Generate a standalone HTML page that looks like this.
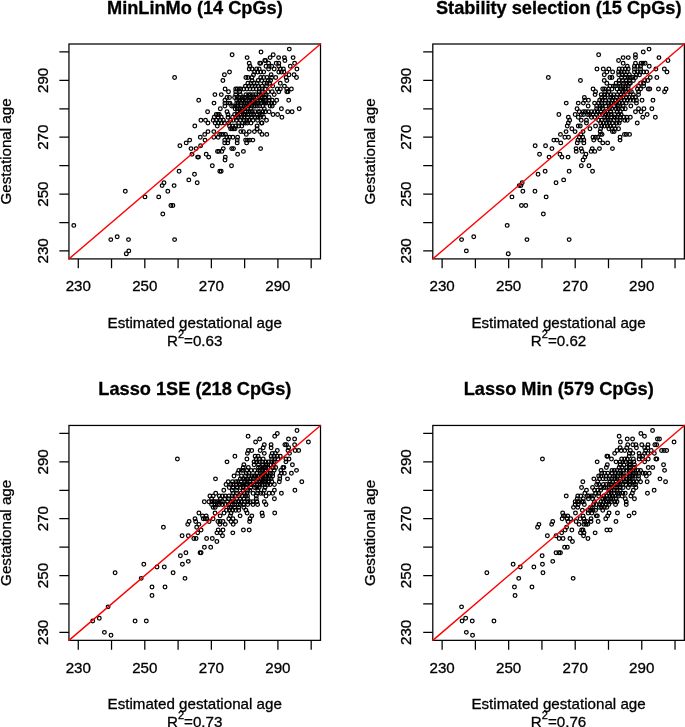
<!DOCTYPE html>
<html><head><meta charset="utf-8"><title>Gestational age prediction</title>
<style>
html,body{margin:0;padding:0;background:#fff;}
body{width:685px;height:727px;overflow:hidden;}
svg{display:block;will-change:transform;font-family:"Liberation Sans",Arial,Helvetica,sans-serif;}
.t{font-weight:bold;font-size:18.2px;text-anchor:middle;fill:#000;stroke:#000;stroke-width:0.3px;}
.l{font-size:15.15px;text-anchor:middle;fill:#000;stroke:#000;stroke-width:0.3px;}
.s{font-size:11px;}
.ax{stroke:#000;stroke-width:1.25;fill:none;stroke-linecap:butt;}
.pt circle{fill:none;stroke:#000;stroke-width:1.25;}
.rl{stroke:#f00;stroke-width:1.4;fill:none;stroke-linecap:round;}
</style></head><body>
<svg width="685" height="727" viewBox="0 0 685 727">
<rect x="0" y="0" width="685" height="727" fill="#fff"/>

<g transform="translate(0,0)">
<text class="t" x="194.9" y="13.9">MinLinMo (14 CpGs)</text>
<clipPath id="cp1"><rect x="68.95" y="44.0" width="251.6" height="214.9"/></clipPath>
<g class="pt" clip-path="url(#cp1)">
<circle cx="73.8" cy="225.4" r="1.85"/>
<circle cx="110.8" cy="239.6" r="1.85"/>
<circle cx="117.2" cy="236.7" r="1.85"/>
<circle cx="128.5" cy="239.6" r="1.85"/>
<circle cx="128.8" cy="250.9" r="1.85"/>
<circle cx="126.3" cy="253.8" r="1.85"/>
<circle cx="125.3" cy="191.2" r="1.85"/>
<circle cx="145.0" cy="196.9" r="1.85"/>
<circle cx="174.6" cy="239.6" r="1.85"/>
<circle cx="162.8" cy="214.0" r="1.85"/>
<circle cx="170.9" cy="205.5" r="1.85"/>
<circle cx="172.9" cy="205.5" r="1.85"/>
<circle cx="158.7" cy="196.9" r="1.85"/>
<circle cx="167.8" cy="191.2" r="1.85"/>
<circle cx="162.1" cy="185.6" r="1.85"/>
<circle cx="164.0" cy="182.7" r="1.85"/>
<circle cx="174.1" cy="185.6" r="1.85"/>
<circle cx="179.1" cy="171.3" r="1.85"/>
<circle cx="188.8" cy="179.9" r="1.85"/>
<circle cx="194.5" cy="174.2" r="1.85"/>
<circle cx="197.2" cy="182.7" r="1.85"/>
<circle cx="179.9" cy="145.8" r="1.85"/>
<circle cx="186.2" cy="142.9" r="1.85"/>
<circle cx="189.7" cy="140.1" r="1.85"/>
<circle cx="191.0" cy="148.6" r="1.85"/>
<circle cx="192.0" cy="154.3" r="1.85"/>
<circle cx="196.1" cy="148.6" r="1.85"/>
<circle cx="200.6" cy="145.8" r="1.85"/>
<circle cx="200.3" cy="137.2" r="1.85"/>
<circle cx="205.0" cy="140.1" r="1.85"/>
<circle cx="204.7" cy="134.4" r="1.85"/>
<circle cx="208.0" cy="131.6" r="1.85"/>
<circle cx="213.8" cy="131.6" r="1.85"/>
<circle cx="197.6" cy="157.1" r="1.85"/>
<circle cx="198.5" cy="157.1" r="1.85"/>
<circle cx="206.2" cy="154.3" r="1.85"/>
<circle cx="208.7" cy="157.1" r="1.85"/>
<circle cx="212.3" cy="165.7" r="1.85"/>
<circle cx="219.8" cy="171.3" r="1.85"/>
<circle cx="221.2" cy="171.3" r="1.85"/>
<circle cx="231.5" cy="165.7" r="1.85"/>
<circle cx="225.0" cy="160.0" r="1.85"/>
<circle cx="225.3" cy="157.1" r="1.85"/>
<circle cx="217.5" cy="151.4" r="1.85"/>
<circle cx="218.9" cy="151.4" r="1.85"/>
<circle cx="221.8" cy="151.4" r="1.85"/>
<circle cx="223.3" cy="148.6" r="1.85"/>
<circle cx="231.7" cy="148.6" r="1.85"/>
<circle cx="233.5" cy="148.6" r="1.85"/>
<circle cx="237.6" cy="154.3" r="1.85"/>
<circle cx="243.4" cy="151.4" r="1.85"/>
<circle cx="213.8" cy="137.2" r="1.85"/>
<circle cx="218.2" cy="137.2" r="1.85"/>
<circle cx="219.6" cy="134.4" r="1.85"/>
<circle cx="221.5" cy="134.4" r="1.85"/>
<circle cx="223.0" cy="134.4" r="1.85"/>
<circle cx="225.5" cy="134.4" r="1.85"/>
<circle cx="226.9" cy="137.2" r="1.85"/>
<circle cx="229.6" cy="137.2" r="1.85"/>
<circle cx="232.9" cy="137.2" r="1.85"/>
<circle cx="237.6" cy="137.2" r="1.85"/>
<circle cx="224.7" cy="140.1" r="1.85"/>
<circle cx="228.1" cy="140.1" r="1.85"/>
<circle cx="237.2" cy="140.1" r="1.85"/>
<circle cx="245.6" cy="140.1" r="1.85"/>
<circle cx="247.5" cy="140.1" r="1.85"/>
<circle cx="249.7" cy="140.1" r="1.85"/>
<circle cx="224.7" cy="142.9" r="1.85"/>
<circle cx="227.7" cy="142.9" r="1.85"/>
<circle cx="237.2" cy="142.9" r="1.85"/>
<circle cx="246.6" cy="142.9" r="1.85"/>
<circle cx="240.8" cy="131.6" r="1.85"/>
<circle cx="243.4" cy="131.6" r="1.85"/>
<circle cx="249.3" cy="131.6" r="1.85"/>
<circle cx="246.3" cy="134.4" r="1.85"/>
<circle cx="254.4" cy="131.6" r="1.85"/>
<circle cx="259.8" cy="131.6" r="1.85"/>
<circle cx="262.0" cy="134.4" r="1.85"/>
<circle cx="266.8" cy="134.4" r="1.85"/>
<circle cx="252.8" cy="140.1" r="1.85"/>
<circle cx="260.6" cy="148.6" r="1.85"/>
<circle cx="174.6" cy="77.5" r="1.85"/>
<circle cx="198.7" cy="100.3" r="1.85"/>
<circle cx="207.6" cy="111.7" r="1.85"/>
<circle cx="200.9" cy="120.2" r="1.85"/>
<circle cx="205.5" cy="120.2" r="1.85"/>
<circle cx="207.9" cy="123.0" r="1.85"/>
<circle cx="194.8" cy="125.9" r="1.85"/>
<circle cx="261.0" cy="52.0" r="1.85"/>
<circle cx="232.1" cy="54.8" r="1.85"/>
<circle cx="247.1" cy="57.6" r="1.85"/>
<circle cx="264.8" cy="60.5" r="1.85"/>
<circle cx="249.2" cy="63.3" r="1.85"/>
<circle cx="259.7" cy="63.3" r="1.85"/>
<circle cx="260.7" cy="63.3" r="1.85"/>
<circle cx="250.0" cy="66.2" r="1.85"/>
<circle cx="249.2" cy="69.0" r="1.85"/>
<circle cx="252.0" cy="69.0" r="1.85"/>
<circle cx="256.6" cy="69.0" r="1.85"/>
<circle cx="259.2" cy="69.0" r="1.85"/>
<circle cx="229.5" cy="71.9" r="1.85"/>
<circle cx="254.6" cy="71.9" r="1.85"/>
<circle cx="257.6" cy="71.9" r="1.85"/>
<circle cx="260.7" cy="71.9" r="1.85"/>
<circle cx="263.7" cy="71.9" r="1.85"/>
<circle cx="224.4" cy="74.7" r="1.85"/>
<circle cx="253.5" cy="74.7" r="1.85"/>
<circle cx="245.9" cy="77.5" r="1.85"/>
<circle cx="247.9" cy="77.5" r="1.85"/>
<circle cx="252.0" cy="77.5" r="1.85"/>
<circle cx="260.7" cy="77.5" r="1.85"/>
<circle cx="263.7" cy="77.5" r="1.85"/>
<circle cx="222.9" cy="80.4" r="1.85"/>
<circle cx="252.0" cy="80.4" r="1.85"/>
<circle cx="258.1" cy="80.4" r="1.85"/>
<circle cx="261.7" cy="80.4" r="1.85"/>
<circle cx="247.9" cy="83.2" r="1.85"/>
<circle cx="251.0" cy="83.2" r="1.85"/>
<circle cx="254.0" cy="83.2" r="1.85"/>
<circle cx="257.1" cy="83.2" r="1.85"/>
<circle cx="264.3" cy="83.2" r="1.85"/>
<circle cx="245.4" cy="86.1" r="1.85"/>
<circle cx="248.9" cy="86.1" r="1.85"/>
<circle cx="252.0" cy="86.1" r="1.85"/>
<circle cx="255.1" cy="86.1" r="1.85"/>
<circle cx="258.1" cy="86.1" r="1.85"/>
<circle cx="262.2" cy="86.1" r="1.85"/>
<circle cx="225.1" cy="88.9" r="1.85"/>
<circle cx="235.7" cy="88.9" r="1.85"/>
<circle cx="237.2" cy="88.9" r="1.85"/>
<circle cx="239.2" cy="88.9" r="1.85"/>
<circle cx="240.8" cy="88.9" r="1.85"/>
<circle cx="243.8" cy="88.9" r="1.85"/>
<circle cx="246.9" cy="88.9" r="1.85"/>
<circle cx="250.0" cy="88.9" r="1.85"/>
<circle cx="253.0" cy="88.9" r="1.85"/>
<circle cx="256.1" cy="88.9" r="1.85"/>
<circle cx="259.2" cy="88.9" r="1.85"/>
<circle cx="262.2" cy="88.9" r="1.85"/>
<circle cx="265.3" cy="88.9" r="1.85"/>
<circle cx="228.5" cy="91.8" r="1.85"/>
<circle cx="235.7" cy="91.8" r="1.85"/>
<circle cx="239.8" cy="91.8" r="1.85"/>
<circle cx="259.2" cy="91.8" r="1.85"/>
<circle cx="262.2" cy="91.8" r="1.85"/>
<circle cx="214.9" cy="94.6" r="1.85"/>
<circle cx="221.3" cy="94.6" r="1.85"/>
<circle cx="235.7" cy="94.6" r="1.85"/>
<circle cx="240.3" cy="94.6" r="1.85"/>
<circle cx="245.9" cy="94.6" r="1.85"/>
<circle cx="248.6" cy="94.6" r="1.85"/>
<circle cx="250.4" cy="94.6" r="1.85"/>
<circle cx="253.0" cy="94.6" r="1.85"/>
<circle cx="255.7" cy="94.6" r="1.85"/>
<circle cx="258.9" cy="94.6" r="1.85"/>
<circle cx="261.1" cy="94.6" r="1.85"/>
<circle cx="264.3" cy="94.6" r="1.85"/>
<circle cx="227.0" cy="97.4" r="1.85"/>
<circle cx="229.5" cy="97.4" r="1.85"/>
<circle cx="234.6" cy="97.4" r="1.85"/>
<circle cx="237.1" cy="97.4" r="1.85"/>
<circle cx="239.4" cy="97.4" r="1.85"/>
<circle cx="242.3" cy="97.4" r="1.85"/>
<circle cx="244.4" cy="97.4" r="1.85"/>
<circle cx="245.7" cy="97.4" r="1.85"/>
<circle cx="248.3" cy="97.4" r="1.85"/>
<circle cx="250.4" cy="97.4" r="1.85"/>
<circle cx="253.4" cy="97.4" r="1.85"/>
<circle cx="255.6" cy="97.4" r="1.85"/>
<circle cx="257.2" cy="97.4" r="1.85"/>
<circle cx="260.4" cy="97.4" r="1.85"/>
<circle cx="262.2" cy="97.4" r="1.85"/>
<circle cx="264.8" cy="97.4" r="1.85"/>
<circle cx="224.9" cy="100.3" r="1.85"/>
<circle cx="236.7" cy="100.3" r="1.85"/>
<circle cx="239.0" cy="100.3" r="1.85"/>
<circle cx="241.8" cy="100.3" r="1.85"/>
<circle cx="243.4" cy="100.3" r="1.85"/>
<circle cx="246.2" cy="100.3" r="1.85"/>
<circle cx="248.8" cy="100.3" r="1.85"/>
<circle cx="251.5" cy="100.3" r="1.85"/>
<circle cx="253.1" cy="100.3" r="1.85"/>
<circle cx="255.1" cy="100.3" r="1.85"/>
<circle cx="257.3" cy="100.3" r="1.85"/>
<circle cx="260.7" cy="100.3" r="1.85"/>
<circle cx="263.2" cy="100.3" r="1.85"/>
<circle cx="265.3" cy="100.3" r="1.85"/>
<circle cx="214.0" cy="103.1" r="1.85"/>
<circle cx="224.9" cy="103.1" r="1.85"/>
<circle cx="228.5" cy="103.1" r="1.85"/>
<circle cx="230.0" cy="103.1" r="1.85"/>
<circle cx="236.7" cy="103.1" r="1.85"/>
<circle cx="238.3" cy="103.1" r="1.85"/>
<circle cx="241.3" cy="103.1" r="1.85"/>
<circle cx="243.8" cy="103.1" r="1.85"/>
<circle cx="245.4" cy="103.1" r="1.85"/>
<circle cx="247.1" cy="103.1" r="1.85"/>
<circle cx="249.6" cy="103.1" r="1.85"/>
<circle cx="251.7" cy="103.1" r="1.85"/>
<circle cx="254.0" cy="103.1" r="1.85"/>
<circle cx="256.5" cy="103.1" r="1.85"/>
<circle cx="258.4" cy="103.1" r="1.85"/>
<circle cx="261.2" cy="103.1" r="1.85"/>
<circle cx="263.8" cy="103.1" r="1.85"/>
<circle cx="265.3" cy="103.1" r="1.85"/>
<circle cx="224.9" cy="106.0" r="1.85"/>
<circle cx="231.6" cy="106.0" r="1.85"/>
<circle cx="233.6" cy="106.0" r="1.85"/>
<circle cx="236.5" cy="106.0" r="1.85"/>
<circle cx="238.1" cy="106.0" r="1.85"/>
<circle cx="241.0" cy="106.0" r="1.85"/>
<circle cx="244.2" cy="106.0" r="1.85"/>
<circle cx="246.0" cy="106.0" r="1.85"/>
<circle cx="248.6" cy="106.0" r="1.85"/>
<circle cx="251.3" cy="106.0" r="1.85"/>
<circle cx="253.7" cy="106.0" r="1.85"/>
<circle cx="255.4" cy="106.0" r="1.85"/>
<circle cx="257.4" cy="106.0" r="1.85"/>
<circle cx="259.7" cy="106.0" r="1.85"/>
<circle cx="262.8" cy="106.0" r="1.85"/>
<circle cx="220.3" cy="108.8" r="1.85"/>
<circle cx="235.1" cy="108.8" r="1.85"/>
<circle cx="237.3" cy="108.8" r="1.85"/>
<circle cx="240.2" cy="108.8" r="1.85"/>
<circle cx="242.3" cy="108.8" r="1.85"/>
<circle cx="245.1" cy="108.8" r="1.85"/>
<circle cx="247.6" cy="108.8" r="1.85"/>
<circle cx="251.0" cy="108.8" r="1.85"/>
<circle cx="264.3" cy="108.8" r="1.85"/>
<circle cx="227.0" cy="111.7" r="1.85"/>
<circle cx="237.7" cy="111.7" r="1.85"/>
<circle cx="240.4" cy="111.7" r="1.85"/>
<circle cx="242.3" cy="111.7" r="1.85"/>
<circle cx="245.0" cy="111.7" r="1.85"/>
<circle cx="248.3" cy="111.7" r="1.85"/>
<circle cx="250.2" cy="111.7" r="1.85"/>
<circle cx="252.2" cy="111.7" r="1.85"/>
<circle cx="255.0" cy="111.7" r="1.85"/>
<circle cx="258.3" cy="111.7" r="1.85"/>
<circle cx="259.6" cy="111.7" r="1.85"/>
<circle cx="262.8" cy="111.7" r="1.85"/>
<circle cx="265.3" cy="111.7" r="1.85"/>
<circle cx="216.2" cy="114.5" r="1.85"/>
<circle cx="217.8" cy="114.5" r="1.85"/>
<circle cx="219.3" cy="114.5" r="1.85"/>
<circle cx="228.0" cy="114.5" r="1.85"/>
<circle cx="234.6" cy="114.5" r="1.85"/>
<circle cx="237.5" cy="114.5" r="1.85"/>
<circle cx="240.2" cy="114.5" r="1.85"/>
<circle cx="243.5" cy="114.5" r="1.85"/>
<circle cx="245.3" cy="114.5" r="1.85"/>
<circle cx="247.9" cy="114.5" r="1.85"/>
<circle cx="251.3" cy="114.5" r="1.85"/>
<circle cx="253.7" cy="114.5" r="1.85"/>
<circle cx="257.2" cy="114.5" r="1.85"/>
<circle cx="260.1" cy="114.5" r="1.85"/>
<circle cx="262.2" cy="114.5" r="1.85"/>
<circle cx="214.2" cy="117.3" r="1.85"/>
<circle cx="218.3" cy="117.3" r="1.85"/>
<circle cx="221.3" cy="117.3" r="1.85"/>
<circle cx="228.0" cy="117.3" r="1.85"/>
<circle cx="232.6" cy="117.3" r="1.85"/>
<circle cx="236.2" cy="117.3" r="1.85"/>
<circle cx="238.2" cy="117.3" r="1.85"/>
<circle cx="241.5" cy="117.3" r="1.85"/>
<circle cx="244.0" cy="117.3" r="1.85"/>
<circle cx="247.5" cy="117.3" r="1.85"/>
<circle cx="251.8" cy="117.3" r="1.85"/>
<circle cx="254.8" cy="117.3" r="1.85"/>
<circle cx="258.0" cy="117.3" r="1.85"/>
<circle cx="260.2" cy="117.3" r="1.85"/>
<circle cx="263.7" cy="117.3" r="1.85"/>
<circle cx="213.2" cy="120.2" r="1.85"/>
<circle cx="216.2" cy="120.2" r="1.85"/>
<circle cx="220.3" cy="120.2" r="1.85"/>
<circle cx="223.4" cy="120.2" r="1.85"/>
<circle cx="230.6" cy="120.2" r="1.85"/>
<circle cx="233.2" cy="120.2" r="1.85"/>
<circle cx="236.4" cy="120.2" r="1.85"/>
<circle cx="240.4" cy="120.2" r="1.85"/>
<circle cx="244.0" cy="120.2" r="1.85"/>
<circle cx="246.9" cy="120.2" r="1.85"/>
<circle cx="249.0" cy="120.2" r="1.85"/>
<circle cx="253.0" cy="120.2" r="1.85"/>
<circle cx="257.6" cy="120.2" r="1.85"/>
<circle cx="215.2" cy="123.0" r="1.85"/>
<circle cx="218.3" cy="123.0" r="1.85"/>
<circle cx="221.3" cy="123.0" r="1.85"/>
<circle cx="224.4" cy="123.0" r="1.85"/>
<circle cx="228.5" cy="123.0" r="1.85"/>
<circle cx="238.7" cy="123.0" r="1.85"/>
<circle cx="242.5" cy="123.0" r="1.85"/>
<circle cx="245.3" cy="123.0" r="1.85"/>
<circle cx="247.3" cy="123.0" r="1.85"/>
<circle cx="251.0" cy="123.0" r="1.85"/>
<circle cx="261.4" cy="123.0" r="1.85"/>
<circle cx="262.0" cy="123.0" r="1.85"/>
<circle cx="217.3" cy="125.9" r="1.85"/>
<circle cx="229.5" cy="125.9" r="1.85"/>
<circle cx="232.6" cy="125.9" r="1.85"/>
<circle cx="235.7" cy="125.9" r="1.85"/>
<circle cx="238.7" cy="125.9" r="1.85"/>
<circle cx="241.8" cy="125.9" r="1.85"/>
<circle cx="257.1" cy="125.9" r="1.85"/>
<circle cx="230.6" cy="128.7" r="1.85"/>
<circle cx="232.1" cy="128.7" r="1.85"/>
<circle cx="233.6" cy="128.7" r="1.85"/>
<circle cx="235.1" cy="128.7" r="1.85"/>
<circle cx="257.1" cy="128.7" r="1.85"/>
<circle cx="289.3" cy="49.1" r="1.85"/>
<circle cx="273.2" cy="54.8" r="1.85"/>
<circle cx="270.1" cy="57.6" r="1.85"/>
<circle cx="278.6" cy="57.6" r="1.85"/>
<circle cx="284.4" cy="57.6" r="1.85"/>
<circle cx="293.1" cy="57.6" r="1.85"/>
<circle cx="265.5" cy="60.5" r="1.85"/>
<circle cx="284.9" cy="60.5" r="1.85"/>
<circle cx="268.6" cy="63.3" r="1.85"/>
<circle cx="276.2" cy="63.3" r="1.85"/>
<circle cx="278.8" cy="63.3" r="1.85"/>
<circle cx="294.6" cy="63.3" r="1.85"/>
<circle cx="266.0" cy="66.2" r="1.85"/>
<circle cx="269.1" cy="66.2" r="1.85"/>
<circle cx="271.7" cy="66.2" r="1.85"/>
<circle cx="278.8" cy="66.2" r="1.85"/>
<circle cx="290.3" cy="66.2" r="1.85"/>
<circle cx="268.6" cy="69.0" r="1.85"/>
<circle cx="274.2" cy="69.0" r="1.85"/>
<circle cx="280.3" cy="69.0" r="1.85"/>
<circle cx="283.4" cy="69.0" r="1.85"/>
<circle cx="296.9" cy="69.0" r="1.85"/>
<circle cx="278.8" cy="71.9" r="1.85"/>
<circle cx="281.4" cy="71.9" r="1.85"/>
<circle cx="283.9" cy="71.9" r="1.85"/>
<circle cx="271.1" cy="74.7" r="1.85"/>
<circle cx="289.0" cy="74.7" r="1.85"/>
<circle cx="294.1" cy="74.7" r="1.85"/>
<circle cx="267.0" cy="77.5" r="1.85"/>
<circle cx="271.7" cy="77.5" r="1.85"/>
<circle cx="275.7" cy="77.5" r="1.85"/>
<circle cx="286.1" cy="77.5" r="1.85"/>
<circle cx="296.5" cy="77.5" r="1.85"/>
<circle cx="268.1" cy="80.4" r="1.85"/>
<circle cx="270.6" cy="80.4" r="1.85"/>
<circle cx="286.8" cy="80.4" r="1.85"/>
<circle cx="267.0" cy="83.2" r="1.85"/>
<circle cx="269.6" cy="83.2" r="1.85"/>
<circle cx="280.3" cy="83.2" r="1.85"/>
<circle cx="266.5" cy="86.1" r="1.85"/>
<circle cx="272.7" cy="86.1" r="1.85"/>
<circle cx="284.4" cy="86.1" r="1.85"/>
<circle cx="277.3" cy="88.9" r="1.85"/>
<circle cx="280.3" cy="88.9" r="1.85"/>
<circle cx="286.8" cy="88.9" r="1.85"/>
<circle cx="291.4" cy="88.9" r="1.85"/>
<circle cx="268.1" cy="91.8" r="1.85"/>
<circle cx="272.2" cy="91.8" r="1.85"/>
<circle cx="278.8" cy="91.8" r="1.85"/>
<circle cx="286.8" cy="91.8" r="1.85"/>
<circle cx="288.0" cy="91.8" r="1.85"/>
<circle cx="266.0" cy="94.6" r="1.85"/>
<circle cx="274.2" cy="94.6" r="1.85"/>
<circle cx="269.1" cy="97.4" r="1.85"/>
<circle cx="266.0" cy="100.3" r="1.85"/>
<circle cx="269.1" cy="100.3" r="1.85"/>
<circle cx="272.2" cy="100.3" r="1.85"/>
<circle cx="276.7" cy="100.3" r="1.85"/>
<circle cx="288.7" cy="100.3" r="1.85"/>
<circle cx="266.0" cy="103.1" r="1.85"/>
<circle cx="268.6" cy="103.1" r="1.85"/>
<circle cx="271.7" cy="103.1" r="1.85"/>
<circle cx="274.2" cy="103.1" r="1.85"/>
<circle cx="270.1" cy="106.0" r="1.85"/>
<circle cx="272.2" cy="106.0" r="1.85"/>
<circle cx="281.4" cy="108.8" r="1.85"/>
<circle cx="299.2" cy="108.8" r="1.85"/>
<circle cx="269.1" cy="111.7" r="1.85"/>
<circle cx="287.7" cy="111.7" r="1.85"/>
<circle cx="292.1" cy="111.7" r="1.85"/>
<circle cx="273.0" cy="114.5" r="1.85"/>
<circle cx="277.6" cy="114.5" r="1.85"/>
<circle cx="281.9" cy="117.3" r="1.85"/>
<circle cx="266.5" cy="120.2" r="1.85"/>
</g>
<rect class="ax" x="68.95" y="44.0" width="251.55" height="214.90"/>
<line class="rl" x1="68.95" y1="258.9" x2="320.5" y2="44.0"/>
<path class="ax" d="M78.27 258.9v9.4M68.95 250.94h-9.6M111.54 258.9v9.4M68.95 222.51h-9.6M144.81 258.9v9.4M68.95 194.09h-9.6M178.09 258.9v9.4M68.95 165.66h-9.6M211.36 258.9v9.4M68.95 137.24h-9.6M244.64 258.9v9.4M68.95 108.81h-9.6M277.91 258.9v9.4M68.95 80.39h-9.6M311.18 258.9v9.4M68.95 51.96h-9.6"/>
<text class="l" x="78.3" y="291.3">230</text>
<text class="l" transform="translate(47.6,250.9) rotate(-90)">230</text>
<text class="l" x="144.8" y="291.3">250</text>
<text class="l" transform="translate(47.6,194.1) rotate(-90)">250</text>
<text class="l" x="211.4" y="291.3">270</text>
<text class="l" transform="translate(47.6,137.2) rotate(-90)">270</text>
<text class="l" x="277.9" y="291.3">290</text>
<text class="l" transform="translate(47.6,80.4) rotate(-90)">290</text>
<text class="l" transform="translate(10.9,151.4) rotate(-90)">Gestational age</text>
<text class="l" x="194.7" y="327.6">Estimated gestational age</text>
<text class="l" x="194.7" y="345.8">R<tspan class="s" dy="-8.3">2</tspan><tspan dy="8.3">=0.63</tspan></text>
</g>
<g transform="translate(363.85,0)">
<text class="t" x="194.9" y="13.9">Stability selection (15 CpGs)</text>
<clipPath id="cp2"><rect x="68.95" y="44.0" width="251.6" height="214.9"/></clipPath>
<g class="pt" clip-path="url(#cp2)">
<circle cx="97.7" cy="239.6" r="1.85"/>
<circle cx="109.9" cy="236.7" r="1.85"/>
<circle cx="102.5" cy="250.9" r="1.85"/>
<circle cx="144.4" cy="253.8" r="1.85"/>
<circle cx="143.3" cy="225.4" r="1.85"/>
<circle cx="148.1" cy="196.9" r="1.85"/>
<circle cx="157.6" cy="205.5" r="1.85"/>
<circle cx="159.0" cy="191.2" r="1.85"/>
<circle cx="155.4" cy="185.6" r="1.85"/>
<circle cx="157.1" cy="185.6" r="1.85"/>
<circle cx="158.3" cy="182.7" r="1.85"/>
<circle cx="163.1" cy="239.6" r="1.85"/>
<circle cx="205.3" cy="239.6" r="1.85"/>
<circle cx="179.5" cy="214.0" r="1.85"/>
<circle cx="161.9" cy="205.5" r="1.85"/>
<circle cx="182.3" cy="196.9" r="1.85"/>
<circle cx="171.1" cy="191.2" r="1.85"/>
<circle cx="192.2" cy="182.7" r="1.85"/>
<circle cx="199.8" cy="179.9" r="1.85"/>
<circle cx="174.2" cy="174.2" r="1.85"/>
<circle cx="181.3" cy="171.3" r="1.85"/>
<circle cx="205.3" cy="171.3" r="1.85"/>
<circle cx="228.7" cy="171.3" r="1.85"/>
<circle cx="217.5" cy="165.7" r="1.85"/>
<circle cx="225.1" cy="165.7" r="1.85"/>
<circle cx="219.2" cy="160.0" r="1.85"/>
<circle cx="221.0" cy="157.1" r="1.85"/>
<circle cx="204.2" cy="157.1" r="1.85"/>
<circle cx="198.1" cy="157.1" r="1.85"/>
<circle cx="185.2" cy="157.1" r="1.85"/>
<circle cx="222.1" cy="154.3" r="1.85"/>
<circle cx="175.7" cy="154.3" r="1.85"/>
<circle cx="196.1" cy="154.3" r="1.85"/>
<circle cx="212.4" cy="151.4" r="1.85"/>
<circle cx="218.2" cy="151.4" r="1.85"/>
<circle cx="227.2" cy="151.4" r="1.85"/>
<circle cx="230.9" cy="151.4" r="1.85"/>
<circle cx="212.2" cy="148.6" r="1.85"/>
<circle cx="217.3" cy="148.6" r="1.85"/>
<circle cx="228.4" cy="148.6" r="1.85"/>
<circle cx="235.6" cy="148.6" r="1.85"/>
<circle cx="188.1" cy="148.6" r="1.85"/>
<circle cx="171.3" cy="145.8" r="1.85"/>
<circle cx="181.7" cy="145.8" r="1.85"/>
<circle cx="196.9" cy="142.9" r="1.85"/>
<circle cx="213.4" cy="142.9" r="1.85"/>
<circle cx="220.0" cy="142.9" r="1.85"/>
<circle cx="238.9" cy="142.9" r="1.85"/>
<circle cx="243.8" cy="142.9" r="1.85"/>
<circle cx="190.0" cy="140.1" r="1.85"/>
<circle cx="193.0" cy="140.1" r="1.85"/>
<circle cx="214.1" cy="140.1" r="1.85"/>
<circle cx="217.0" cy="140.1" r="1.85"/>
<circle cx="220.0" cy="140.1" r="1.85"/>
<circle cx="229.9" cy="140.1" r="1.85"/>
<circle cx="236.0" cy="140.1" r="1.85"/>
<circle cx="201.0" cy="137.2" r="1.85"/>
<circle cx="204.6" cy="137.2" r="1.85"/>
<circle cx="215.6" cy="137.2" r="1.85"/>
<circle cx="218.9" cy="137.2" r="1.85"/>
<circle cx="229.1" cy="137.2" r="1.85"/>
<circle cx="231.6" cy="137.2" r="1.85"/>
<circle cx="233.8" cy="137.2" r="1.85"/>
<circle cx="196.6" cy="134.4" r="1.85"/>
<circle cx="217.0" cy="134.4" r="1.85"/>
<circle cx="236.7" cy="134.4" r="1.85"/>
<circle cx="238.2" cy="134.4" r="1.85"/>
<circle cx="202.2" cy="131.6" r="1.85"/>
<circle cx="211.2" cy="131.6" r="1.85"/>
<circle cx="219.2" cy="131.6" r="1.85"/>
<circle cx="236.3" cy="131.6" r="1.85"/>
<circle cx="248.6" cy="131.6" r="1.85"/>
<circle cx="250.3" cy="131.6" r="1.85"/>
<circle cx="260.6" cy="134.4" r="1.85"/>
<circle cx="262.5" cy="134.4" r="1.85"/>
<circle cx="265.7" cy="134.4" r="1.85"/>
<circle cx="256.2" cy="137.2" r="1.85"/>
<circle cx="256.2" cy="140.1" r="1.85"/>
<circle cx="248.6" cy="148.6" r="1.85"/>
<circle cx="184.5" cy="77.5" r="1.85"/>
<circle cx="202.4" cy="103.1" r="1.85"/>
<circle cx="195.0" cy="114.5" r="1.85"/>
<circle cx="204.5" cy="117.3" r="1.85"/>
<circle cx="205.8" cy="120.2" r="1.85"/>
<circle cx="204.5" cy="123.0" r="1.85"/>
<circle cx="203.4" cy="125.9" r="1.85"/>
<circle cx="208.0" cy="128.7" r="1.85"/>
<circle cx="234.8" cy="54.8" r="1.85"/>
<circle cx="259.3" cy="57.6" r="1.85"/>
<circle cx="264.4" cy="57.6" r="1.85"/>
<circle cx="254.7" cy="60.5" r="1.85"/>
<circle cx="259.3" cy="63.3" r="1.85"/>
<circle cx="263.4" cy="66.2" r="1.85"/>
<circle cx="233.1" cy="69.0" r="1.85"/>
<circle cx="239.4" cy="69.0" r="1.85"/>
<circle cx="245.0" cy="69.0" r="1.85"/>
<circle cx="255.3" cy="69.0" r="1.85"/>
<circle cx="258.3" cy="69.0" r="1.85"/>
<circle cx="261.4" cy="69.0" r="1.85"/>
<circle cx="264.4" cy="69.0" r="1.85"/>
<circle cx="243.0" cy="71.9" r="1.85"/>
<circle cx="248.8" cy="71.9" r="1.85"/>
<circle cx="254.7" cy="71.9" r="1.85"/>
<circle cx="257.5" cy="71.9" r="1.85"/>
<circle cx="260.3" cy="71.9" r="1.85"/>
<circle cx="263.4" cy="71.9" r="1.85"/>
<circle cx="240.4" cy="74.7" r="1.85"/>
<circle cx="254.9" cy="74.7" r="1.85"/>
<circle cx="258.3" cy="74.7" r="1.85"/>
<circle cx="261.9" cy="74.7" r="1.85"/>
<circle cx="265.5" cy="74.7" r="1.85"/>
<circle cx="246.1" cy="77.5" r="1.85"/>
<circle cx="248.1" cy="77.5" r="1.85"/>
<circle cx="257.8" cy="77.5" r="1.85"/>
<circle cx="261.4" cy="77.5" r="1.85"/>
<circle cx="264.4" cy="77.5" r="1.85"/>
<circle cx="216.6" cy="80.4" r="1.85"/>
<circle cx="240.4" cy="80.4" r="1.85"/>
<circle cx="255.3" cy="80.4" r="1.85"/>
<circle cx="258.8" cy="80.4" r="1.85"/>
<circle cx="262.4" cy="80.4" r="1.85"/>
<circle cx="265.5" cy="80.4" r="1.85"/>
<circle cx="243.0" cy="83.2" r="1.85"/>
<circle cx="252.2" cy="83.2" r="1.85"/>
<circle cx="255.2" cy="83.2" r="1.85"/>
<circle cx="259.7" cy="83.2" r="1.85"/>
<circle cx="261.9" cy="83.2" r="1.85"/>
<circle cx="265.5" cy="83.2" r="1.85"/>
<circle cx="246.1" cy="86.1" r="1.85"/>
<circle cx="249.5" cy="86.1" r="1.85"/>
<circle cx="251.5" cy="86.1" r="1.85"/>
<circle cx="256.0" cy="86.1" r="1.85"/>
<circle cx="257.6" cy="86.1" r="1.85"/>
<circle cx="262.3" cy="86.1" r="1.85"/>
<circle cx="264.4" cy="86.1" r="1.85"/>
<circle cx="229.2" cy="88.9" r="1.85"/>
<circle cx="238.9" cy="88.9" r="1.85"/>
<circle cx="240.8" cy="88.9" r="1.85"/>
<circle cx="245.0" cy="88.9" r="1.85"/>
<circle cx="248.1" cy="88.9" r="1.85"/>
<circle cx="253.2" cy="88.9" r="1.85"/>
<circle cx="256.9" cy="88.9" r="1.85"/>
<circle cx="258.9" cy="88.9" r="1.85"/>
<circle cx="261.5" cy="88.9" r="1.85"/>
<circle cx="264.4" cy="88.9" r="1.85"/>
<circle cx="231.7" cy="91.8" r="1.85"/>
<circle cx="240.9" cy="91.8" r="1.85"/>
<circle cx="245.0" cy="91.8" r="1.85"/>
<circle cx="255.3" cy="91.8" r="1.85"/>
<circle cx="259.3" cy="91.8" r="1.85"/>
<circle cx="261.6" cy="91.8" r="1.85"/>
<circle cx="265.5" cy="91.8" r="1.85"/>
<circle cx="231.2" cy="94.6" r="1.85"/>
<circle cx="237.3" cy="94.6" r="1.85"/>
<circle cx="240.9" cy="94.6" r="1.85"/>
<circle cx="243.7" cy="94.6" r="1.85"/>
<circle cx="246.9" cy="94.6" r="1.85"/>
<circle cx="249.9" cy="94.6" r="1.85"/>
<circle cx="253.5" cy="94.6" r="1.85"/>
<circle cx="257.1" cy="94.6" r="1.85"/>
<circle cx="260.1" cy="94.6" r="1.85"/>
<circle cx="263.4" cy="94.6" r="1.85"/>
<circle cx="220.5" cy="97.4" r="1.85"/>
<circle cx="237.9" cy="97.4" r="1.85"/>
<circle cx="240.9" cy="97.4" r="1.85"/>
<circle cx="246.9" cy="97.4" r="1.85"/>
<circle cx="249.2" cy="97.4" r="1.85"/>
<circle cx="252.6" cy="97.4" r="1.85"/>
<circle cx="256.7" cy="97.4" r="1.85"/>
<circle cx="259.0" cy="97.4" r="1.85"/>
<circle cx="262.5" cy="97.4" r="1.85"/>
<circle cx="265.5" cy="97.4" r="1.85"/>
<circle cx="221.0" cy="100.3" r="1.85"/>
<circle cx="224.6" cy="100.3" r="1.85"/>
<circle cx="235.8" cy="100.3" r="1.85"/>
<circle cx="238.2" cy="100.3" r="1.85"/>
<circle cx="241.5" cy="100.3" r="1.85"/>
<circle cx="245.5" cy="100.3" r="1.85"/>
<circle cx="248.2" cy="100.3" r="1.85"/>
<circle cx="251.9" cy="100.3" r="1.85"/>
<circle cx="254.4" cy="100.3" r="1.85"/>
<circle cx="257.3" cy="100.3" r="1.85"/>
<circle cx="260.3" cy="100.3" r="1.85"/>
<circle cx="263.4" cy="100.3" r="1.85"/>
<circle cx="214.4" cy="103.1" r="1.85"/>
<circle cx="219.5" cy="103.1" r="1.85"/>
<circle cx="230.7" cy="103.1" r="1.85"/>
<circle cx="234.8" cy="103.1" r="1.85"/>
<circle cx="237.8" cy="103.1" r="1.85"/>
<circle cx="241.3" cy="103.1" r="1.85"/>
<circle cx="244.8" cy="103.1" r="1.85"/>
<circle cx="247.2" cy="103.1" r="1.85"/>
<circle cx="250.8" cy="103.1" r="1.85"/>
<circle cx="252.5" cy="103.1" r="1.85"/>
<circle cx="255.5" cy="103.1" r="1.85"/>
<circle cx="258.5" cy="103.1" r="1.85"/>
<circle cx="262.4" cy="103.1" r="1.85"/>
<circle cx="224.3" cy="106.0" r="1.85"/>
<circle cx="232.8" cy="106.0" r="1.85"/>
<circle cx="236.2" cy="106.0" r="1.85"/>
<circle cx="238.0" cy="106.0" r="1.85"/>
<circle cx="241.9" cy="106.0" r="1.85"/>
<circle cx="245.3" cy="106.0" r="1.85"/>
<circle cx="247.0" cy="106.0" r="1.85"/>
<circle cx="250.3" cy="106.0" r="1.85"/>
<circle cx="254.3" cy="106.0" r="1.85"/>
<circle cx="255.8" cy="106.0" r="1.85"/>
<circle cx="259.3" cy="106.0" r="1.85"/>
<circle cx="213.2" cy="108.8" r="1.85"/>
<circle cx="232.8" cy="108.8" r="1.85"/>
<circle cx="236.0" cy="108.8" r="1.85"/>
<circle cx="238.6" cy="108.8" r="1.85"/>
<circle cx="245.6" cy="108.8" r="1.85"/>
<circle cx="247.8" cy="108.8" r="1.85"/>
<circle cx="252.1" cy="108.8" r="1.85"/>
<circle cx="254.2" cy="108.8" r="1.85"/>
<circle cx="258.7" cy="108.8" r="1.85"/>
<circle cx="261.4" cy="108.8" r="1.85"/>
<circle cx="215.4" cy="111.7" r="1.85"/>
<circle cx="219.5" cy="111.7" r="1.85"/>
<circle cx="221.6" cy="111.7" r="1.85"/>
<circle cx="224.2" cy="111.7" r="1.85"/>
<circle cx="227.6" cy="111.7" r="1.85"/>
<circle cx="230.7" cy="111.7" r="1.85"/>
<circle cx="233.5" cy="111.7" r="1.85"/>
<circle cx="236.9" cy="111.7" r="1.85"/>
<circle cx="240.9" cy="111.7" r="1.85"/>
<circle cx="242.9" cy="111.7" r="1.85"/>
<circle cx="246.8" cy="111.7" r="1.85"/>
<circle cx="253.4" cy="111.7" r="1.85"/>
<circle cx="256.3" cy="111.7" r="1.85"/>
<circle cx="211.3" cy="114.5" r="1.85"/>
<circle cx="217.4" cy="114.5" r="1.85"/>
<circle cx="219.7" cy="114.5" r="1.85"/>
<circle cx="223.8" cy="114.5" r="1.85"/>
<circle cx="225.8" cy="114.5" r="1.85"/>
<circle cx="228.9" cy="114.5" r="1.85"/>
<circle cx="232.7" cy="114.5" r="1.85"/>
<circle cx="235.9" cy="114.5" r="1.85"/>
<circle cx="238.4" cy="114.5" r="1.85"/>
<circle cx="242.0" cy="114.5" r="1.85"/>
<circle cx="244.3" cy="114.5" r="1.85"/>
<circle cx="247.2" cy="114.5" r="1.85"/>
<circle cx="250.8" cy="114.5" r="1.85"/>
<circle cx="254.7" cy="114.5" r="1.85"/>
<circle cx="257.3" cy="114.5" r="1.85"/>
<circle cx="214.4" cy="117.3" r="1.85"/>
<circle cx="227.6" cy="117.3" r="1.85"/>
<circle cx="230.9" cy="117.3" r="1.85"/>
<circle cx="240.9" cy="117.3" r="1.85"/>
<circle cx="243.1" cy="117.3" r="1.85"/>
<circle cx="247.7" cy="117.3" r="1.85"/>
<circle cx="250.7" cy="117.3" r="1.85"/>
<circle cx="253.3" cy="117.3" r="1.85"/>
<circle cx="256.3" cy="117.3" r="1.85"/>
<circle cx="260.1" cy="117.3" r="1.85"/>
<circle cx="262.9" cy="117.3" r="1.85"/>
<circle cx="217.4" cy="120.2" r="1.85"/>
<circle cx="222.6" cy="120.2" r="1.85"/>
<circle cx="234.8" cy="120.2" r="1.85"/>
<circle cx="237.7" cy="120.2" r="1.85"/>
<circle cx="241.6" cy="120.2" r="1.85"/>
<circle cx="244.2" cy="120.2" r="1.85"/>
<circle cx="246.7" cy="120.2" r="1.85"/>
<circle cx="249.9" cy="120.2" r="1.85"/>
<circle cx="253.4" cy="120.2" r="1.85"/>
<circle cx="256.3" cy="120.2" r="1.85"/>
<circle cx="260.9" cy="120.2" r="1.85"/>
<circle cx="263.4" cy="120.2" r="1.85"/>
<circle cx="222.6" cy="123.0" r="1.85"/>
<circle cx="236.8" cy="123.0" r="1.85"/>
<circle cx="239.5" cy="123.0" r="1.85"/>
<circle cx="242.6" cy="123.0" r="1.85"/>
<circle cx="245.4" cy="123.0" r="1.85"/>
<circle cx="248.7" cy="123.0" r="1.85"/>
<circle cx="253.1" cy="123.0" r="1.85"/>
<circle cx="255.3" cy="123.0" r="1.85"/>
<circle cx="214.4" cy="125.9" r="1.85"/>
<circle cx="216.4" cy="125.9" r="1.85"/>
<circle cx="231.7" cy="125.9" r="1.85"/>
<circle cx="237.9" cy="125.9" r="1.85"/>
<circle cx="240.5" cy="125.9" r="1.85"/>
<circle cx="243.7" cy="125.9" r="1.85"/>
<circle cx="246.2" cy="125.9" r="1.85"/>
<circle cx="250.1" cy="125.9" r="1.85"/>
<circle cx="226.1" cy="128.7" r="1.85"/>
<circle cx="236.8" cy="128.7" r="1.85"/>
<circle cx="245.0" cy="128.7" r="1.85"/>
<circle cx="248.1" cy="128.7" r="1.85"/>
<circle cx="251.2" cy="128.7" r="1.85"/>
<circle cx="254.7" cy="128.7" r="1.85"/>
<circle cx="285.2" cy="49.1" r="1.85"/>
<circle cx="279.4" cy="52.0" r="1.85"/>
<circle cx="271.6" cy="54.8" r="1.85"/>
<circle cx="271.6" cy="57.6" r="1.85"/>
<circle cx="295.1" cy="57.6" r="1.85"/>
<circle cx="304.1" cy="60.5" r="1.85"/>
<circle cx="271.6" cy="63.3" r="1.85"/>
<circle cx="277.2" cy="63.3" r="1.85"/>
<circle cx="279.2" cy="63.3" r="1.85"/>
<circle cx="281.3" cy="63.3" r="1.85"/>
<circle cx="270.6" cy="66.2" r="1.85"/>
<circle cx="273.6" cy="66.2" r="1.85"/>
<circle cx="276.7" cy="66.2" r="1.85"/>
<circle cx="285.4" cy="66.2" r="1.85"/>
<circle cx="270.6" cy="69.0" r="1.85"/>
<circle cx="276.7" cy="69.0" r="1.85"/>
<circle cx="292.0" cy="69.0" r="1.85"/>
<circle cx="300.5" cy="69.0" r="1.85"/>
<circle cx="270.6" cy="71.9" r="1.85"/>
<circle cx="273.6" cy="71.9" r="1.85"/>
<circle cx="276.7" cy="71.9" r="1.85"/>
<circle cx="279.8" cy="71.9" r="1.85"/>
<circle cx="282.8" cy="71.9" r="1.85"/>
<circle cx="303.1" cy="71.9" r="1.85"/>
<circle cx="272.6" cy="74.7" r="1.85"/>
<circle cx="275.7" cy="74.7" r="1.85"/>
<circle cx="266.5" cy="77.5" r="1.85"/>
<circle cx="269.0" cy="77.5" r="1.85"/>
<circle cx="271.6" cy="77.5" r="1.85"/>
<circle cx="286.4" cy="77.5" r="1.85"/>
<circle cx="293.0" cy="77.5" r="1.85"/>
<circle cx="269.5" cy="80.4" r="1.85"/>
<circle cx="280.8" cy="80.4" r="1.85"/>
<circle cx="283.9" cy="80.4" r="1.85"/>
<circle cx="266.5" cy="83.2" r="1.85"/>
<circle cx="276.7" cy="83.2" r="1.85"/>
<circle cx="279.8" cy="83.2" r="1.85"/>
<circle cx="274.7" cy="86.1" r="1.85"/>
<circle cx="279.8" cy="86.1" r="1.85"/>
<circle cx="273.6" cy="88.9" r="1.85"/>
<circle cx="276.7" cy="88.9" r="1.85"/>
<circle cx="284.4" cy="88.9" r="1.85"/>
<circle cx="285.9" cy="88.9" r="1.85"/>
<circle cx="294.6" cy="88.9" r="1.85"/>
<circle cx="302.2" cy="88.9" r="1.85"/>
<circle cx="267.5" cy="91.8" r="1.85"/>
<circle cx="274.7" cy="91.8" r="1.85"/>
<circle cx="300.7" cy="91.8" r="1.85"/>
<circle cx="269.5" cy="94.6" r="1.85"/>
<circle cx="274.7" cy="94.6" r="1.85"/>
<circle cx="268.5" cy="97.4" r="1.85"/>
<circle cx="271.6" cy="97.4" r="1.85"/>
<circle cx="266.5" cy="100.3" r="1.85"/>
<circle cx="269.5" cy="100.3" r="1.85"/>
<circle cx="272.6" cy="100.3" r="1.85"/>
<circle cx="278.2" cy="100.3" r="1.85"/>
<circle cx="289.1" cy="100.3" r="1.85"/>
<circle cx="272.6" cy="103.1" r="1.85"/>
<circle cx="267.0" cy="106.0" r="1.85"/>
<circle cx="274.7" cy="108.8" r="1.85"/>
<circle cx="280.1" cy="108.8" r="1.85"/>
<circle cx="288.0" cy="108.8" r="1.85"/>
<circle cx="271.6" cy="111.7" r="1.85"/>
<circle cx="277.2" cy="111.7" r="1.85"/>
<circle cx="283.3" cy="114.5" r="1.85"/>
<circle cx="266.5" cy="117.3" r="1.85"/>
<circle cx="278.9" cy="117.3" r="1.85"/>
<circle cx="291.5" cy="117.3" r="1.85"/>
<circle cx="273.4" cy="123.0" r="1.85"/>
</g>
<rect class="ax" x="68.95" y="44.0" width="251.55" height="214.90"/>
<line class="rl" x1="68.95" y1="258.9" x2="320.5" y2="44.0"/>
<path class="ax" d="M78.27 258.9v9.4M68.95 250.94h-9.6M111.54 258.9v9.4M68.95 222.51h-9.6M144.81 258.9v9.4M68.95 194.09h-9.6M178.09 258.9v9.4M68.95 165.66h-9.6M211.36 258.9v9.4M68.95 137.24h-9.6M244.64 258.9v9.4M68.95 108.81h-9.6M277.91 258.9v9.4M68.95 80.39h-9.6M311.18 258.9v9.4M68.95 51.96h-9.6"/>
<text class="l" x="78.3" y="291.3">230</text>
<text class="l" transform="translate(47.6,250.9) rotate(-90)">230</text>
<text class="l" x="144.8" y="291.3">250</text>
<text class="l" transform="translate(47.6,194.1) rotate(-90)">250</text>
<text class="l" x="211.4" y="291.3">270</text>
<text class="l" transform="translate(47.6,137.2) rotate(-90)">270</text>
<text class="l" x="277.9" y="291.3">290</text>
<text class="l" transform="translate(47.6,80.4) rotate(-90)">290</text>
<text class="l" transform="translate(10.9,151.4) rotate(-90)">Gestational age</text>
<text class="l" x="194.7" y="327.6">Estimated gestational age</text>
<text class="l" x="194.7" y="345.8">R<tspan class="s" dy="-8.3">2</tspan><tspan dy="8.3">=0.62</tspan></text>
</g>
<g transform="translate(0,381.45)">
<text class="t" x="194.9" y="13.9">Lasso 1SE (218 CpGs)</text>
<clipPath id="cp3"><rect x="68.95" y="44.0" width="251.6" height="214.9"/></clipPath>
<g class="pt" clip-path="url(#cp3)">
<circle cx="92.7" cy="239.6" r="1.85"/>
<circle cx="99.3" cy="236.7" r="1.85"/>
<circle cx="108.1" cy="225.4" r="1.85"/>
<circle cx="104.4" cy="250.9" r="1.85"/>
<circle cx="111.0" cy="253.8" r="1.85"/>
<circle cx="135.1" cy="239.6" r="1.85"/>
<circle cx="146.3" cy="239.6" r="1.85"/>
<circle cx="115.1" cy="191.2" r="1.85"/>
<circle cx="141.2" cy="196.9" r="1.85"/>
<circle cx="143.8" cy="182.7" r="1.85"/>
<circle cx="152.0" cy="214.0" r="1.85"/>
<circle cx="152.0" cy="205.5" r="1.85"/>
<circle cx="165.0" cy="205.5" r="1.85"/>
<circle cx="185.0" cy="196.9" r="1.85"/>
<circle cx="173.1" cy="191.2" r="1.85"/>
<circle cx="157.0" cy="185.6" r="1.85"/>
<circle cx="164.3" cy="185.6" r="1.85"/>
<circle cx="182.4" cy="182.7" r="1.85"/>
<circle cx="188.3" cy="179.9" r="1.85"/>
<circle cx="180.4" cy="174.2" r="1.85"/>
<circle cx="185.9" cy="171.3" r="1.85"/>
<circle cx="200.1" cy="171.3" r="1.85"/>
<circle cx="201.1" cy="171.3" r="1.85"/>
<circle cx="204.4" cy="165.7" r="1.85"/>
<circle cx="210.7" cy="165.7" r="1.85"/>
<circle cx="216.9" cy="160.0" r="1.85"/>
<circle cx="193.8" cy="157.1" r="1.85"/>
<circle cx="196.1" cy="157.1" r="1.85"/>
<circle cx="206.6" cy="157.1" r="1.85"/>
<circle cx="212.3" cy="157.1" r="1.85"/>
<circle cx="182.1" cy="154.3" r="1.85"/>
<circle cx="188.3" cy="154.3" r="1.85"/>
<circle cx="222.5" cy="154.3" r="1.85"/>
<circle cx="197.7" cy="151.4" r="1.85"/>
<circle cx="216.9" cy="151.4" r="1.85"/>
<circle cx="220.4" cy="151.4" r="1.85"/>
<circle cx="232.8" cy="151.4" r="1.85"/>
<circle cx="201.1" cy="148.6" r="1.85"/>
<circle cx="218.2" cy="148.6" r="1.85"/>
<circle cx="223.0" cy="148.6" r="1.85"/>
<circle cx="243.4" cy="148.6" r="1.85"/>
<circle cx="163.4" cy="145.8" r="1.85"/>
<circle cx="196.7" cy="145.8" r="1.85"/>
<circle cx="187.7" cy="142.9" r="1.85"/>
<circle cx="198.9" cy="142.9" r="1.85"/>
<circle cx="219.8" cy="142.9" r="1.85"/>
<circle cx="225.2" cy="142.9" r="1.85"/>
<circle cx="233.2" cy="142.9" r="1.85"/>
<circle cx="189.1" cy="140.1" r="1.85"/>
<circle cx="195.7" cy="140.1" r="1.85"/>
<circle cx="209.1" cy="140.1" r="1.85"/>
<circle cx="217.9" cy="140.1" r="1.85"/>
<circle cx="220.1" cy="140.1" r="1.85"/>
<circle cx="223.0" cy="140.1" r="1.85"/>
<circle cx="231.0" cy="140.1" r="1.85"/>
<circle cx="235.7" cy="140.1" r="1.85"/>
<circle cx="195.0" cy="137.2" r="1.85"/>
<circle cx="203.3" cy="137.2" r="1.85"/>
<circle cx="205.2" cy="137.2" r="1.85"/>
<circle cx="206.9" cy="137.2" r="1.85"/>
<circle cx="213.1" cy="137.2" r="1.85"/>
<circle cx="228.8" cy="137.2" r="1.85"/>
<circle cx="232.9" cy="137.2" r="1.85"/>
<circle cx="202.5" cy="134.4" r="1.85"/>
<circle cx="206.2" cy="134.4" r="1.85"/>
<circle cx="220.1" cy="134.4" r="1.85"/>
<circle cx="230.3" cy="134.4" r="1.85"/>
<circle cx="240.1" cy="134.4" r="1.85"/>
<circle cx="198.9" cy="131.6" r="1.85"/>
<circle cx="215.0" cy="131.6" r="1.85"/>
<circle cx="224.0" cy="131.6" r="1.85"/>
<circle cx="231.0" cy="131.6" r="1.85"/>
<circle cx="247.1" cy="131.6" r="1.85"/>
<circle cx="262.0" cy="131.6" r="1.85"/>
<circle cx="274.7" cy="131.6" r="1.85"/>
<circle cx="251.8" cy="134.4" r="1.85"/>
<circle cx="262.5" cy="134.4" r="1.85"/>
<circle cx="250.0" cy="137.2" r="1.85"/>
<circle cx="249.6" cy="140.1" r="1.85"/>
<circle cx="249.2" cy="148.6" r="1.85"/>
<circle cx="177.4" cy="77.5" r="1.85"/>
<circle cx="209.9" cy="114.5" r="1.85"/>
<circle cx="204.3" cy="120.2" r="1.85"/>
<circle cx="208.9" cy="120.2" r="1.85"/>
<circle cx="248.1" cy="54.8" r="1.85"/>
<circle cx="259.7" cy="57.6" r="1.85"/>
<circle cx="255.6" cy="60.5" r="1.85"/>
<circle cx="264.3" cy="63.3" r="1.85"/>
<circle cx="263.2" cy="66.2" r="1.85"/>
<circle cx="248.4" cy="69.0" r="1.85"/>
<circle cx="251.7" cy="69.0" r="1.85"/>
<circle cx="260.2" cy="69.0" r="1.85"/>
<circle cx="247.4" cy="71.9" r="1.85"/>
<circle cx="264.3" cy="71.9" r="1.85"/>
<circle cx="234.9" cy="74.7" r="1.85"/>
<circle cx="255.1" cy="74.7" r="1.85"/>
<circle cx="258.1" cy="74.7" r="1.85"/>
<circle cx="246.9" cy="77.5" r="1.85"/>
<circle cx="256.1" cy="77.5" r="1.85"/>
<circle cx="259.2" cy="77.5" r="1.85"/>
<circle cx="263.2" cy="77.5" r="1.85"/>
<circle cx="227.0" cy="80.4" r="1.85"/>
<circle cx="254.0" cy="80.4" r="1.85"/>
<circle cx="256.6" cy="80.4" r="1.85"/>
<circle cx="259.3" cy="80.4" r="1.85"/>
<circle cx="262.5" cy="80.4" r="1.85"/>
<circle cx="215.5" cy="97.4" r="1.85"/>
<circle cx="215.7" cy="111.7" r="1.85"/>
<circle cx="213.2" cy="114.5" r="1.85"/>
<circle cx="219.3" cy="114.5" r="1.85"/>
<circle cx="222.4" cy="114.5" r="1.85"/>
<circle cx="211.6" cy="117.3" r="1.85"/>
<circle cx="220.3" cy="117.3" r="1.85"/>
<circle cx="211.9" cy="120.2" r="1.85"/>
<circle cx="214.1" cy="120.2" r="1.85"/>
<circle cx="215.7" cy="120.2" r="1.85"/>
<circle cx="217.8" cy="120.2" r="1.85"/>
<circle cx="220.3" cy="120.2" r="1.85"/>
<circle cx="222.4" cy="120.2" r="1.85"/>
<circle cx="227.5" cy="120.2" r="1.85"/>
<circle cx="231.0" cy="120.2" r="1.85"/>
<circle cx="233.1" cy="120.2" r="1.85"/>
<circle cx="235.5" cy="120.2" r="1.85"/>
<circle cx="238.6" cy="120.2" r="1.85"/>
<circle cx="241.2" cy="120.2" r="1.85"/>
<circle cx="244.6" cy="120.2" r="1.85"/>
<circle cx="247.8" cy="120.2" r="1.85"/>
<circle cx="250.1" cy="120.2" r="1.85"/>
<circle cx="253.0" cy="120.2" r="1.85"/>
<circle cx="256.9" cy="120.2" r="1.85"/>
<circle cx="264.3" cy="120.2" r="1.85"/>
<circle cx="211.6" cy="123.0" r="1.85"/>
<circle cx="215.2" cy="123.0" r="1.85"/>
<circle cx="217.4" cy="123.0" r="1.85"/>
<circle cx="219.3" cy="123.0" r="1.85"/>
<circle cx="222.4" cy="123.0" r="1.85"/>
<circle cx="225.4" cy="123.0" r="1.85"/>
<circle cx="228.5" cy="123.0" r="1.85"/>
<circle cx="232.4" cy="123.0" r="1.85"/>
<circle cx="234.6" cy="123.0" r="1.85"/>
<circle cx="238.4" cy="123.0" r="1.85"/>
<circle cx="240.4" cy="123.0" r="1.85"/>
<circle cx="243.6" cy="123.0" r="1.85"/>
<circle cx="247.7" cy="123.0" r="1.85"/>
<circle cx="253.0" cy="123.0" r="1.85"/>
<circle cx="257.6" cy="123.0" r="1.85"/>
<circle cx="213.2" cy="125.9" r="1.85"/>
<circle cx="215.2" cy="125.9" r="1.85"/>
<circle cx="229.5" cy="125.9" r="1.85"/>
<circle cx="231.1" cy="125.9" r="1.85"/>
<circle cx="234.7" cy="125.9" r="1.85"/>
<circle cx="238.7" cy="125.9" r="1.85"/>
<circle cx="243.8" cy="125.9" r="1.85"/>
<circle cx="226.5" cy="128.7" r="1.85"/>
<circle cx="229.5" cy="128.7" r="1.85"/>
<circle cx="232.6" cy="128.7" r="1.85"/>
<circle cx="235.7" cy="128.7" r="1.85"/>
<circle cx="238.7" cy="128.7" r="1.85"/>
<circle cx="245.9" cy="128.7" r="1.85"/>
<circle cx="243.9" cy="83.2" r="1.85"/>
<circle cx="254.1" cy="83.2" r="1.85"/>
<circle cx="258.5" cy="83.2" r="1.85"/>
<circle cx="262.9" cy="83.2" r="1.85"/>
<circle cx="243.2" cy="86.1" r="1.85"/>
<circle cx="248.3" cy="86.1" r="1.85"/>
<circle cx="258.5" cy="86.1" r="1.85"/>
<circle cx="260.6" cy="86.1" r="1.85"/>
<circle cx="263.3" cy="86.1" r="1.85"/>
<circle cx="265.1" cy="86.1" r="1.85"/>
<circle cx="238.8" cy="88.9" r="1.85"/>
<circle cx="241.5" cy="88.9" r="1.85"/>
<circle cx="243.2" cy="88.9" r="1.85"/>
<circle cx="246.8" cy="88.9" r="1.85"/>
<circle cx="251.2" cy="88.9" r="1.85"/>
<circle cx="254.8" cy="88.9" r="1.85"/>
<circle cx="258.5" cy="88.9" r="1.85"/>
<circle cx="260.2" cy="88.9" r="1.85"/>
<circle cx="262.9" cy="88.9" r="1.85"/>
<circle cx="265.1" cy="88.9" r="1.85"/>
<circle cx="237.7" cy="91.8" r="1.85"/>
<circle cx="246.1" cy="91.8" r="1.85"/>
<circle cx="249.0" cy="91.8" r="1.85"/>
<circle cx="257.0" cy="91.8" r="1.85"/>
<circle cx="260.4" cy="91.8" r="1.85"/>
<circle cx="262.6" cy="91.8" r="1.85"/>
<circle cx="265.1" cy="91.8" r="1.85"/>
<circle cx="234.0" cy="94.6" r="1.85"/>
<circle cx="241.4" cy="94.6" r="1.85"/>
<circle cx="245.4" cy="94.6" r="1.85"/>
<circle cx="249.0" cy="94.6" r="1.85"/>
<circle cx="251.9" cy="94.6" r="1.85"/>
<circle cx="254.0" cy="94.6" r="1.85"/>
<circle cx="255.7" cy="94.6" r="1.85"/>
<circle cx="258.1" cy="94.6" r="1.85"/>
<circle cx="260.9" cy="94.6" r="1.85"/>
<circle cx="262.4" cy="94.6" r="1.85"/>
<circle cx="265.1" cy="94.6" r="1.85"/>
<circle cx="240.3" cy="97.4" r="1.85"/>
<circle cx="242.8" cy="97.4" r="1.85"/>
<circle cx="244.5" cy="97.4" r="1.85"/>
<circle cx="247.4" cy="97.4" r="1.85"/>
<circle cx="249.7" cy="97.4" r="1.85"/>
<circle cx="251.2" cy="97.4" r="1.85"/>
<circle cx="253.3" cy="97.4" r="1.85"/>
<circle cx="257.9" cy="97.4" r="1.85"/>
<circle cx="261.1" cy="97.4" r="1.85"/>
<circle cx="263.3" cy="97.4" r="1.85"/>
<circle cx="265.1" cy="97.4" r="1.85"/>
<circle cx="228.2" cy="100.3" r="1.85"/>
<circle cx="232.6" cy="100.3" r="1.85"/>
<circle cx="235.9" cy="100.3" r="1.85"/>
<circle cx="237.8" cy="100.3" r="1.85"/>
<circle cx="241.0" cy="100.3" r="1.85"/>
<circle cx="244.8" cy="100.3" r="1.85"/>
<circle cx="247.0" cy="100.3" r="1.85"/>
<circle cx="249.6" cy="100.3" r="1.85"/>
<circle cx="253.6" cy="100.3" r="1.85"/>
<circle cx="256.3" cy="100.3" r="1.85"/>
<circle cx="258.7" cy="100.3" r="1.85"/>
<circle cx="260.6" cy="100.3" r="1.85"/>
<circle cx="263.4" cy="100.3" r="1.85"/>
<circle cx="265.1" cy="100.3" r="1.85"/>
<circle cx="226.0" cy="103.1" r="1.85"/>
<circle cx="230.8" cy="103.1" r="1.85"/>
<circle cx="232.9" cy="103.1" r="1.85"/>
<circle cx="236.6" cy="103.1" r="1.85"/>
<circle cx="239.2" cy="103.1" r="1.85"/>
<circle cx="240.6" cy="103.1" r="1.85"/>
<circle cx="242.9" cy="103.1" r="1.85"/>
<circle cx="245.3" cy="103.1" r="1.85"/>
<circle cx="247.2" cy="103.1" r="1.85"/>
<circle cx="250.0" cy="103.1" r="1.85"/>
<circle cx="251.4" cy="103.1" r="1.85"/>
<circle cx="254.1" cy="103.1" r="1.85"/>
<circle cx="257.0" cy="103.1" r="1.85"/>
<circle cx="260.0" cy="103.1" r="1.85"/>
<circle cx="262.1" cy="103.1" r="1.85"/>
<circle cx="265.1" cy="103.1" r="1.85"/>
<circle cx="229.3" cy="106.0" r="1.85"/>
<circle cx="232.9" cy="106.0" r="1.85"/>
<circle cx="237.3" cy="106.0" r="1.85"/>
<circle cx="240.3" cy="106.0" r="1.85"/>
<circle cx="243.2" cy="106.0" r="1.85"/>
<circle cx="246.1" cy="106.0" r="1.85"/>
<circle cx="250.7" cy="106.0" r="1.85"/>
<circle cx="254.6" cy="106.0" r="1.85"/>
<circle cx="256.9" cy="106.0" r="1.85"/>
<circle cx="259.2" cy="106.0" r="1.85"/>
<circle cx="265.1" cy="106.0" r="1.85"/>
<circle cx="223.8" cy="108.8" r="1.85"/>
<circle cx="232.2" cy="108.8" r="1.85"/>
<circle cx="236.6" cy="108.8" r="1.85"/>
<circle cx="243.2" cy="108.8" r="1.85"/>
<circle cx="247.7" cy="108.8" r="1.85"/>
<circle cx="249.8" cy="108.8" r="1.85"/>
<circle cx="257.8" cy="108.8" r="1.85"/>
<circle cx="264.3" cy="108.8" r="1.85"/>
<circle cx="232.9" cy="111.7" r="1.85"/>
<circle cx="236.6" cy="111.7" r="1.85"/>
<circle cx="241.0" cy="111.7" r="1.85"/>
<circle cx="244.4" cy="111.7" r="1.85"/>
<circle cx="247.0" cy="111.7" r="1.85"/>
<circle cx="253.1" cy="111.7" r="1.85"/>
<circle cx="257.5" cy="111.7" r="1.85"/>
<circle cx="260.7" cy="111.7" r="1.85"/>
<circle cx="262.9" cy="111.7" r="1.85"/>
<circle cx="225.3" cy="114.5" r="1.85"/>
<circle cx="228.9" cy="114.5" r="1.85"/>
<circle cx="232.2" cy="114.5" r="1.85"/>
<circle cx="235.5" cy="114.5" r="1.85"/>
<circle cx="238.8" cy="114.5" r="1.85"/>
<circle cx="242.1" cy="114.5" r="1.85"/>
<circle cx="245.4" cy="114.5" r="1.85"/>
<circle cx="247.5" cy="114.5" r="1.85"/>
<circle cx="256.3" cy="114.5" r="1.85"/>
<circle cx="224.9" cy="117.3" r="1.85"/>
<circle cx="228.6" cy="117.3" r="1.85"/>
<circle cx="232.2" cy="117.3" r="1.85"/>
<circle cx="236.6" cy="117.3" r="1.85"/>
<circle cx="240.3" cy="117.3" r="1.85"/>
<circle cx="243.9" cy="117.3" r="1.85"/>
<circle cx="247.5" cy="117.3" r="1.85"/>
<circle cx="256.3" cy="117.3" r="1.85"/>
<circle cx="297.0" cy="49.1" r="1.85"/>
<circle cx="277.3" cy="52.0" r="1.85"/>
<circle cx="274.7" cy="54.8" r="1.85"/>
<circle cx="288.5" cy="57.6" r="1.85"/>
<circle cx="294.6" cy="57.6" r="1.85"/>
<circle cx="308.4" cy="60.5" r="1.85"/>
<circle cx="271.1" cy="63.3" r="1.85"/>
<circle cx="284.9" cy="63.3" r="1.85"/>
<circle cx="286.5" cy="63.3" r="1.85"/>
<circle cx="294.6" cy="63.3" r="1.85"/>
<circle cx="271.1" cy="66.2" r="1.85"/>
<circle cx="288.7" cy="66.2" r="1.85"/>
<circle cx="277.3" cy="69.0" r="1.85"/>
<circle cx="288.0" cy="69.0" r="1.85"/>
<circle cx="295.1" cy="69.0" r="1.85"/>
<circle cx="298.7" cy="69.0" r="1.85"/>
<circle cx="272.2" cy="71.9" r="1.85"/>
<circle cx="275.2" cy="71.9" r="1.85"/>
<circle cx="289.5" cy="71.9" r="1.85"/>
<circle cx="271.1" cy="74.7" r="1.85"/>
<circle cx="274.2" cy="74.7" r="1.85"/>
<circle cx="277.3" cy="74.7" r="1.85"/>
<circle cx="280.3" cy="74.7" r="1.85"/>
<circle cx="271.7" cy="77.5" r="1.85"/>
<circle cx="274.7" cy="77.5" r="1.85"/>
<circle cx="277.8" cy="77.5" r="1.85"/>
<circle cx="285.9" cy="77.5" r="1.85"/>
<circle cx="289.0" cy="77.5" r="1.85"/>
<circle cx="265.8" cy="80.4" r="1.85"/>
<circle cx="268.4" cy="80.4" r="1.85"/>
<circle cx="271.9" cy="80.4" r="1.85"/>
<circle cx="274.2" cy="80.4" r="1.85"/>
<circle cx="285.9" cy="80.4" r="1.85"/>
<circle cx="265.8" cy="83.2" r="1.85"/>
<circle cx="267.7" cy="83.2" r="1.85"/>
<circle cx="270.9" cy="83.2" r="1.85"/>
<circle cx="273.7" cy="83.2" r="1.85"/>
<circle cx="292.4" cy="83.2" r="1.85"/>
<circle cx="265.8" cy="86.1" r="1.85"/>
<circle cx="267.8" cy="86.1" r="1.85"/>
<circle cx="273.1" cy="86.1" r="1.85"/>
<circle cx="275.7" cy="86.1" r="1.85"/>
<circle cx="282.9" cy="86.1" r="1.85"/>
<circle cx="283.9" cy="86.1" r="1.85"/>
<circle cx="265.8" cy="88.9" r="1.85"/>
<circle cx="270.6" cy="88.9" r="1.85"/>
<circle cx="274.2" cy="88.9" r="1.85"/>
<circle cx="280.8" cy="88.9" r="1.85"/>
<circle cx="296.5" cy="88.9" r="1.85"/>
<circle cx="267.0" cy="91.8" r="1.85"/>
<circle cx="270.5" cy="91.8" r="1.85"/>
<circle cx="272.7" cy="91.8" r="1.85"/>
<circle cx="281.4" cy="91.8" r="1.85"/>
<circle cx="284.4" cy="91.8" r="1.85"/>
<circle cx="291.4" cy="91.8" r="1.85"/>
<circle cx="265.8" cy="94.6" r="1.85"/>
<circle cx="268.5" cy="94.6" r="1.85"/>
<circle cx="270.1" cy="94.6" r="1.85"/>
<circle cx="272.7" cy="94.6" r="1.85"/>
<circle cx="279.8" cy="94.6" r="1.85"/>
<circle cx="265.8" cy="97.4" r="1.85"/>
<circle cx="269.2" cy="97.4" r="1.85"/>
<circle cx="271.1" cy="97.4" r="1.85"/>
<circle cx="279.8" cy="97.4" r="1.85"/>
<circle cx="287.5" cy="97.4" r="1.85"/>
<circle cx="265.8" cy="100.3" r="1.85"/>
<circle cx="268.4" cy="100.3" r="1.85"/>
<circle cx="271.8" cy="100.3" r="1.85"/>
<circle cx="279.3" cy="100.3" r="1.85"/>
<circle cx="301.8" cy="100.3" r="1.85"/>
<circle cx="267.6" cy="103.1" r="1.85"/>
<circle cx="270.1" cy="103.1" r="1.85"/>
<circle cx="274.4" cy="103.1" r="1.85"/>
<circle cx="274.4" cy="108.8" r="1.85"/>
<circle cx="294.9" cy="108.8" r="1.85"/>
<circle cx="269.1" cy="111.7" r="1.85"/>
<circle cx="272.7" cy="111.7" r="1.85"/>
<circle cx="281.4" cy="111.7" r="1.85"/>
<circle cx="274.4" cy="117.3" r="1.85"/>
<circle cx="266.0" cy="114.5" r="1.85"/>
<circle cx="266.0" cy="123.0" r="1.85"/>
</g>
<rect class="ax" x="68.95" y="44.0" width="251.55" height="214.90"/>
<line class="rl" x1="68.95" y1="258.9" x2="320.5" y2="44.0"/>
<path class="ax" d="M78.27 258.9v9.4M68.95 250.94h-9.6M111.54 258.9v9.4M68.95 222.51h-9.6M144.81 258.9v9.4M68.95 194.09h-9.6M178.09 258.9v9.4M68.95 165.66h-9.6M211.36 258.9v9.4M68.95 137.24h-9.6M244.64 258.9v9.4M68.95 108.81h-9.6M277.91 258.9v9.4M68.95 80.39h-9.6M311.18 258.9v9.4M68.95 51.96h-9.6"/>
<text class="l" x="78.3" y="291.3">230</text>
<text class="l" transform="translate(47.6,250.9) rotate(-90)">230</text>
<text class="l" x="144.8" y="291.3">250</text>
<text class="l" transform="translate(47.6,194.1) rotate(-90)">250</text>
<text class="l" x="211.4" y="291.3">270</text>
<text class="l" transform="translate(47.6,137.2) rotate(-90)">270</text>
<text class="l" x="277.9" y="291.3">290</text>
<text class="l" transform="translate(47.6,80.4) rotate(-90)">290</text>
<text class="l" transform="translate(10.9,151.4) rotate(-90)">Gestational age</text>
<text class="l" x="194.7" y="327.6">Estimated gestational age</text>
<text class="l" x="194.7" y="345.8">R<tspan class="s" dy="-8.3">2</tspan><tspan dy="8.3">=0.73</tspan></text>
</g>
<g transform="translate(363.85,381.45)">
<text class="t" x="194.9" y="13.9">Lasso Min (579 CpGs)</text>
<clipPath id="cp4"><rect x="68.95" y="44.0" width="251.6" height="214.9"/></clipPath>
<g class="pt" clip-path="url(#cp4)">
<circle cx="97.7" cy="225.4" r="1.85"/>
<circle cx="98.2" cy="239.6" r="1.85"/>
<circle cx="101.8" cy="236.7" r="1.85"/>
<circle cx="108.4" cy="239.6" r="1.85"/>
<circle cx="130.1" cy="239.6" r="1.85"/>
<circle cx="102.5" cy="250.9" r="1.85"/>
<circle cx="108.7" cy="253.8" r="1.85"/>
<circle cx="123.0" cy="191.2" r="1.85"/>
<circle cx="149.3" cy="182.7" r="1.85"/>
<circle cx="156.4" cy="185.6" r="1.85"/>
<circle cx="154.9" cy="196.9" r="1.85"/>
<circle cx="150.6" cy="205.5" r="1.85"/>
<circle cx="151.2" cy="214.0" r="1.85"/>
<circle cx="168.1" cy="205.5" r="1.85"/>
<circle cx="209.3" cy="196.9" r="1.85"/>
<circle cx="179.1" cy="191.2" r="1.85"/>
<circle cx="170.0" cy="185.6" r="1.85"/>
<circle cx="178.6" cy="182.7" r="1.85"/>
<circle cx="188.9" cy="179.9" r="1.85"/>
<circle cx="178.3" cy="174.2" r="1.85"/>
<circle cx="192.2" cy="171.3" r="1.85"/>
<circle cx="195.1" cy="171.3" r="1.85"/>
<circle cx="196.6" cy="171.3" r="1.85"/>
<circle cx="200.7" cy="165.7" r="1.85"/>
<circle cx="203.5" cy="165.7" r="1.85"/>
<circle cx="208.6" cy="160.0" r="1.85"/>
<circle cx="195.3" cy="157.1" r="1.85"/>
<circle cx="199.2" cy="157.1" r="1.85"/>
<circle cx="206.1" cy="157.1" r="1.85"/>
<circle cx="224.1" cy="157.1" r="1.85"/>
<circle cx="183.5" cy="154.3" r="1.85"/>
<circle cx="192.2" cy="154.3" r="1.85"/>
<circle cx="219.7" cy="154.3" r="1.85"/>
<circle cx="197.8" cy="151.4" r="1.85"/>
<circle cx="216.6" cy="151.4" r="1.85"/>
<circle cx="220.2" cy="151.4" r="1.85"/>
<circle cx="231.3" cy="151.4" r="1.85"/>
<circle cx="201.3" cy="148.6" r="1.85"/>
<circle cx="208.0" cy="148.6" r="1.85"/>
<circle cx="217.8" cy="148.6" r="1.85"/>
<circle cx="219.2" cy="148.6" r="1.85"/>
<circle cx="243.0" cy="148.6" r="1.85"/>
<circle cx="173.7" cy="145.8" r="1.85"/>
<circle cx="202.7" cy="145.8" r="1.85"/>
<circle cx="175.1" cy="142.9" r="1.85"/>
<circle cx="187.8" cy="142.9" r="1.85"/>
<circle cx="215.2" cy="142.9" r="1.85"/>
<circle cx="220.0" cy="142.9" r="1.85"/>
<circle cx="222.1" cy="142.9" r="1.85"/>
<circle cx="223.9" cy="142.9" r="1.85"/>
<circle cx="188.9" cy="140.1" r="1.85"/>
<circle cx="204.2" cy="140.1" r="1.85"/>
<circle cx="212.2" cy="140.1" r="1.85"/>
<circle cx="220.7" cy="140.1" r="1.85"/>
<circle cx="222.9" cy="140.1" r="1.85"/>
<circle cx="227.2" cy="140.1" r="1.85"/>
<circle cx="234.3" cy="140.1" r="1.85"/>
<circle cx="198.3" cy="137.2" r="1.85"/>
<circle cx="203.2" cy="137.2" r="1.85"/>
<circle cx="206.8" cy="137.2" r="1.85"/>
<circle cx="216.3" cy="137.2" r="1.85"/>
<circle cx="220.0" cy="137.2" r="1.85"/>
<circle cx="227.2" cy="137.2" r="1.85"/>
<circle cx="241.9" cy="137.2" r="1.85"/>
<circle cx="199.5" cy="134.4" r="1.85"/>
<circle cx="201.0" cy="134.4" r="1.85"/>
<circle cx="203.9" cy="134.4" r="1.85"/>
<circle cx="219.2" cy="134.4" r="1.85"/>
<circle cx="232.4" cy="134.4" r="1.85"/>
<circle cx="233.5" cy="134.4" r="1.85"/>
<circle cx="243.8" cy="134.4" r="1.85"/>
<circle cx="198.8" cy="131.6" r="1.85"/>
<circle cx="211.6" cy="131.6" r="1.85"/>
<circle cx="224.3" cy="131.6" r="1.85"/>
<circle cx="228.0" cy="131.6" r="1.85"/>
<circle cx="245.2" cy="131.6" r="1.85"/>
<circle cx="253.6" cy="131.6" r="1.85"/>
<circle cx="270.3" cy="131.6" r="1.85"/>
<circle cx="265.2" cy="134.4" r="1.85"/>
<circle cx="252.1" cy="140.1" r="1.85"/>
<circle cx="246.3" cy="148.6" r="1.85"/>
<circle cx="178.6" cy="77.5" r="1.85"/>
<circle cx="202.4" cy="114.5" r="1.85"/>
<circle cx="255.3" cy="54.8" r="1.85"/>
<circle cx="263.4" cy="57.6" r="1.85"/>
<circle cx="256.5" cy="60.5" r="1.85"/>
<circle cx="263.9" cy="63.3" r="1.85"/>
<circle cx="256.3" cy="66.2" r="1.85"/>
<circle cx="262.9" cy="66.2" r="1.85"/>
<circle cx="253.2" cy="69.0" r="1.85"/>
<circle cx="257.3" cy="69.0" r="1.85"/>
<circle cx="260.9" cy="69.0" r="1.85"/>
<circle cx="250.8" cy="71.9" r="1.85"/>
<circle cx="265.5" cy="71.9" r="1.85"/>
<circle cx="243.0" cy="74.7" r="1.85"/>
<circle cx="244.0" cy="74.7" r="1.85"/>
<circle cx="265.3" cy="74.7" r="1.85"/>
<circle cx="247.6" cy="77.5" r="1.85"/>
<circle cx="257.8" cy="77.5" r="1.85"/>
<circle cx="260.9" cy="77.5" r="1.85"/>
<circle cx="263.4" cy="77.5" r="1.85"/>
<circle cx="233.3" cy="80.4" r="1.85"/>
<circle cx="252.2" cy="80.4" r="1.85"/>
<circle cx="256.3" cy="80.4" r="1.85"/>
<circle cx="259.0" cy="80.4" r="1.85"/>
<circle cx="261.5" cy="80.4" r="1.85"/>
<circle cx="265.5" cy="80.4" r="1.85"/>
<circle cx="243.5" cy="83.2" r="1.85"/>
<circle cx="256.3" cy="83.2" r="1.85"/>
<circle cx="260.1" cy="83.2" r="1.85"/>
<circle cx="265.5" cy="83.2" r="1.85"/>
<circle cx="242.5" cy="86.1" r="1.85"/>
<circle cx="255.3" cy="86.1" r="1.85"/>
<circle cx="258.1" cy="86.1" r="1.85"/>
<circle cx="262.9" cy="86.1" r="1.85"/>
<circle cx="265.5" cy="86.1" r="1.85"/>
<circle cx="237.3" cy="88.9" r="1.85"/>
<circle cx="248.1" cy="88.9" r="1.85"/>
<circle cx="250.5" cy="88.9" r="1.85"/>
<circle cx="253.2" cy="88.9" r="1.85"/>
<circle cx="256.3" cy="88.9" r="1.85"/>
<circle cx="259.2" cy="88.9" r="1.85"/>
<circle cx="263.2" cy="88.9" r="1.85"/>
<circle cx="265.5" cy="88.9" r="1.85"/>
<circle cx="237.9" cy="91.8" r="1.85"/>
<circle cx="240.9" cy="91.8" r="1.85"/>
<circle cx="244.0" cy="91.8" r="1.85"/>
<circle cx="248.1" cy="91.8" r="1.85"/>
<circle cx="251.5" cy="91.8" r="1.85"/>
<circle cx="254.4" cy="91.8" r="1.85"/>
<circle cx="257.0" cy="91.8" r="1.85"/>
<circle cx="259.4" cy="91.8" r="1.85"/>
<circle cx="265.5" cy="91.8" r="1.85"/>
<circle cx="234.8" cy="94.6" r="1.85"/>
<circle cx="237.1" cy="94.6" r="1.85"/>
<circle cx="242.4" cy="94.6" r="1.85"/>
<circle cx="245.7" cy="94.6" r="1.85"/>
<circle cx="249.4" cy="94.6" r="1.85"/>
<circle cx="251.1" cy="94.6" r="1.85"/>
<circle cx="253.6" cy="94.6" r="1.85"/>
<circle cx="257.4" cy="94.6" r="1.85"/>
<circle cx="259.4" cy="94.6" r="1.85"/>
<circle cx="262.9" cy="94.6" r="1.85"/>
<circle cx="265.5" cy="94.6" r="1.85"/>
<circle cx="230.0" cy="97.4" r="1.85"/>
<circle cx="235.8" cy="97.4" r="1.85"/>
<circle cx="239.2" cy="97.4" r="1.85"/>
<circle cx="242.0" cy="97.4" r="1.85"/>
<circle cx="245.3" cy="97.4" r="1.85"/>
<circle cx="247.8" cy="97.4" r="1.85"/>
<circle cx="251.1" cy="97.4" r="1.85"/>
<circle cx="253.2" cy="97.4" r="1.85"/>
<circle cx="256.0" cy="97.4" r="1.85"/>
<circle cx="259.7" cy="97.4" r="1.85"/>
<circle cx="262.3" cy="97.4" r="1.85"/>
<circle cx="265.5" cy="97.4" r="1.85"/>
<circle cx="219.0" cy="100.3" r="1.85"/>
<circle cx="233.8" cy="100.3" r="1.85"/>
<circle cx="246.1" cy="100.3" r="1.85"/>
<circle cx="248.8" cy="100.3" r="1.85"/>
<circle cx="252.1" cy="100.3" r="1.85"/>
<circle cx="255.2" cy="100.3" r="1.85"/>
<circle cx="257.1" cy="100.3" r="1.85"/>
<circle cx="260.5" cy="100.3" r="1.85"/>
<circle cx="261.9" cy="100.3" r="1.85"/>
<circle cx="265.5" cy="100.3" r="1.85"/>
<circle cx="232.8" cy="103.1" r="1.85"/>
<circle cx="235.1" cy="103.1" r="1.85"/>
<circle cx="239.5" cy="103.1" r="1.85"/>
<circle cx="242.4" cy="103.1" r="1.85"/>
<circle cx="245.3" cy="103.1" r="1.85"/>
<circle cx="247.2" cy="103.1" r="1.85"/>
<circle cx="251.4" cy="103.1" r="1.85"/>
<circle cx="253.7" cy="103.1" r="1.85"/>
<circle cx="256.1" cy="103.1" r="1.85"/>
<circle cx="258.9" cy="103.1" r="1.85"/>
<circle cx="262.1" cy="103.1" r="1.85"/>
<circle cx="265.5" cy="103.1" r="1.85"/>
<circle cx="217.7" cy="106.0" r="1.85"/>
<circle cx="228.7" cy="106.0" r="1.85"/>
<circle cx="236.8" cy="106.0" r="1.85"/>
<circle cx="239.9" cy="106.0" r="1.85"/>
<circle cx="241.6" cy="106.0" r="1.85"/>
<circle cx="245.6" cy="106.0" r="1.85"/>
<circle cx="247.8" cy="106.0" r="1.85"/>
<circle cx="251.4" cy="106.0" r="1.85"/>
<circle cx="253.0" cy="106.0" r="1.85"/>
<circle cx="256.4" cy="106.0" r="1.85"/>
<circle cx="259.3" cy="106.0" r="1.85"/>
<circle cx="264.4" cy="106.0" r="1.85"/>
<circle cx="222.6" cy="108.8" r="1.85"/>
<circle cx="230.7" cy="108.8" r="1.85"/>
<circle cx="234.0" cy="108.8" r="1.85"/>
<circle cx="236.8" cy="108.8" r="1.85"/>
<circle cx="245.0" cy="108.8" r="1.85"/>
<circle cx="247.2" cy="108.8" r="1.85"/>
<circle cx="250.5" cy="108.8" r="1.85"/>
<circle cx="253.1" cy="108.8" r="1.85"/>
<circle cx="256.3" cy="108.8" r="1.85"/>
<circle cx="221.0" cy="111.7" r="1.85"/>
<circle cx="231.7" cy="111.7" r="1.85"/>
<circle cx="234.8" cy="111.7" r="1.85"/>
<circle cx="245.0" cy="111.7" r="1.85"/>
<circle cx="247.4" cy="111.7" r="1.85"/>
<circle cx="250.2" cy="111.7" r="1.85"/>
<circle cx="253.8" cy="111.7" r="1.85"/>
<circle cx="255.7" cy="111.7" r="1.85"/>
<circle cx="259.0" cy="111.7" r="1.85"/>
<circle cx="261.4" cy="111.7" r="1.85"/>
<circle cx="213.9" cy="114.5" r="1.85"/>
<circle cx="216.9" cy="114.5" r="1.85"/>
<circle cx="223.6" cy="114.5" r="1.85"/>
<circle cx="225.0" cy="114.5" r="1.85"/>
<circle cx="227.5" cy="114.5" r="1.85"/>
<circle cx="229.7" cy="114.5" r="1.85"/>
<circle cx="234.8" cy="114.5" r="1.85"/>
<circle cx="239.9" cy="114.5" r="1.85"/>
<circle cx="242.8" cy="114.5" r="1.85"/>
<circle cx="246.0" cy="114.5" r="1.85"/>
<circle cx="248.3" cy="114.5" r="1.85"/>
<circle cx="252.4" cy="114.5" r="1.85"/>
<circle cx="254.5" cy="114.5" r="1.85"/>
<circle cx="258.3" cy="114.5" r="1.85"/>
<circle cx="213.4" cy="117.3" r="1.85"/>
<circle cx="219.5" cy="117.3" r="1.85"/>
<circle cx="224.6" cy="117.3" r="1.85"/>
<circle cx="228.7" cy="117.3" r="1.85"/>
<circle cx="238.9" cy="117.3" r="1.85"/>
<circle cx="241.3" cy="117.3" r="1.85"/>
<circle cx="243.6" cy="117.3" r="1.85"/>
<circle cx="246.9" cy="117.3" r="1.85"/>
<circle cx="248.8" cy="117.3" r="1.85"/>
<circle cx="252.2" cy="117.3" r="1.85"/>
<circle cx="261.4" cy="117.3" r="1.85"/>
<circle cx="211.3" cy="120.2" r="1.85"/>
<circle cx="213.7" cy="120.2" r="1.85"/>
<circle cx="215.0" cy="120.2" r="1.85"/>
<circle cx="218.0" cy="120.2" r="1.85"/>
<circle cx="219.5" cy="120.2" r="1.85"/>
<circle cx="230.7" cy="120.2" r="1.85"/>
<circle cx="237.1" cy="120.2" r="1.85"/>
<circle cx="239.8" cy="120.2" r="1.85"/>
<circle cx="242.5" cy="120.2" r="1.85"/>
<circle cx="245.3" cy="120.2" r="1.85"/>
<circle cx="247.4" cy="120.2" r="1.85"/>
<circle cx="251.0" cy="120.2" r="1.85"/>
<circle cx="253.2" cy="120.2" r="1.85"/>
<circle cx="262.4" cy="120.2" r="1.85"/>
<circle cx="211.3" cy="123.0" r="1.85"/>
<circle cx="214.4" cy="123.0" r="1.85"/>
<circle cx="220.5" cy="123.0" r="1.85"/>
<circle cx="229.7" cy="123.0" r="1.85"/>
<circle cx="232.3" cy="123.0" r="1.85"/>
<circle cx="235.9" cy="123.0" r="1.85"/>
<circle cx="238.2" cy="123.0" r="1.85"/>
<circle cx="242.3" cy="123.0" r="1.85"/>
<circle cx="245.0" cy="123.0" r="1.85"/>
<circle cx="251.7" cy="123.0" r="1.85"/>
<circle cx="262.4" cy="123.0" r="1.85"/>
<circle cx="209.6" cy="125.9" r="1.85"/>
<circle cx="213.9" cy="125.9" r="1.85"/>
<circle cx="226.6" cy="125.9" r="1.85"/>
<circle cx="228.6" cy="125.9" r="1.85"/>
<circle cx="235.4" cy="125.9" r="1.85"/>
<circle cx="237.7" cy="125.9" r="1.85"/>
<circle cx="240.5" cy="125.9" r="1.85"/>
<circle cx="243.0" cy="125.9" r="1.85"/>
<circle cx="218.5" cy="128.7" r="1.85"/>
<circle cx="224.6" cy="128.7" r="1.85"/>
<circle cx="226.8" cy="128.7" r="1.85"/>
<circle cx="229.2" cy="128.7" r="1.85"/>
<circle cx="231.7" cy="128.7" r="1.85"/>
<circle cx="238.9" cy="128.7" r="1.85"/>
<circle cx="288.7" cy="49.1" r="1.85"/>
<circle cx="277.0" cy="52.0" r="1.85"/>
<circle cx="280.6" cy="54.8" r="1.85"/>
<circle cx="268.7" cy="57.6" r="1.85"/>
<circle cx="293.6" cy="57.6" r="1.85"/>
<circle cx="295.6" cy="57.6" r="1.85"/>
<circle cx="310.2" cy="60.5" r="1.85"/>
<circle cx="269.0" cy="63.3" r="1.85"/>
<circle cx="272.1" cy="63.3" r="1.85"/>
<circle cx="277.9" cy="63.3" r="1.85"/>
<circle cx="284.2" cy="63.3" r="1.85"/>
<circle cx="291.0" cy="63.3" r="1.85"/>
<circle cx="292.8" cy="63.3" r="1.85"/>
<circle cx="272.6" cy="66.2" r="1.85"/>
<circle cx="280.8" cy="66.2" r="1.85"/>
<circle cx="283.9" cy="66.2" r="1.85"/>
<circle cx="266.5" cy="69.0" r="1.85"/>
<circle cx="281.8" cy="69.0" r="1.85"/>
<circle cx="287.4" cy="69.0" r="1.85"/>
<circle cx="297.7" cy="69.0" r="1.85"/>
<circle cx="300.2" cy="69.0" r="1.85"/>
<circle cx="302.8" cy="69.0" r="1.85"/>
<circle cx="269.0" cy="71.9" r="1.85"/>
<circle cx="275.2" cy="71.9" r="1.85"/>
<circle cx="280.8" cy="71.9" r="1.85"/>
<circle cx="283.9" cy="71.9" r="1.85"/>
<circle cx="290.5" cy="71.9" r="1.85"/>
<circle cx="275.7" cy="74.7" r="1.85"/>
<circle cx="278.7" cy="74.7" r="1.85"/>
<circle cx="269.5" cy="77.5" r="1.85"/>
<circle cx="275.2" cy="77.5" r="1.85"/>
<circle cx="278.7" cy="77.5" r="1.85"/>
<circle cx="284.4" cy="77.5" r="1.85"/>
<circle cx="292.0" cy="77.5" r="1.85"/>
<circle cx="293.0" cy="77.5" r="1.85"/>
<circle cx="266.5" cy="80.4" r="1.85"/>
<circle cx="270.0" cy="80.4" r="1.85"/>
<circle cx="280.8" cy="80.4" r="1.85"/>
<circle cx="266.5" cy="83.2" r="1.85"/>
<circle cx="270.6" cy="83.2" r="1.85"/>
<circle cx="299.7" cy="83.2" r="1.85"/>
<circle cx="266.5" cy="86.1" r="1.85"/>
<circle cx="270.6" cy="86.1" r="1.85"/>
<circle cx="284.4" cy="86.1" r="1.85"/>
<circle cx="288.9" cy="86.1" r="1.85"/>
<circle cx="266.5" cy="88.9" r="1.85"/>
<circle cx="268.9" cy="88.9" r="1.85"/>
<circle cx="270.8" cy="88.9" r="1.85"/>
<circle cx="274.1" cy="88.9" r="1.85"/>
<circle cx="276.7" cy="88.9" r="1.85"/>
<circle cx="300.7" cy="88.9" r="1.85"/>
<circle cx="266.5" cy="91.8" r="1.85"/>
<circle cx="269.6" cy="91.8" r="1.85"/>
<circle cx="271.9" cy="91.8" r="1.85"/>
<circle cx="274.7" cy="91.8" r="1.85"/>
<circle cx="279.2" cy="91.8" r="1.85"/>
<circle cx="281.3" cy="91.8" r="1.85"/>
<circle cx="285.4" cy="91.8" r="1.85"/>
<circle cx="266.5" cy="94.6" r="1.85"/>
<circle cx="269.1" cy="94.6" r="1.85"/>
<circle cx="271.3" cy="94.6" r="1.85"/>
<circle cx="274.7" cy="94.6" r="1.85"/>
<circle cx="282.5" cy="94.6" r="1.85"/>
<circle cx="266.5" cy="97.4" r="1.85"/>
<circle cx="268.5" cy="97.4" r="1.85"/>
<circle cx="274.7" cy="97.4" r="1.85"/>
<circle cx="296.1" cy="97.4" r="1.85"/>
<circle cx="266.5" cy="100.3" r="1.85"/>
<circle cx="269.8" cy="100.3" r="1.85"/>
<circle cx="272.6" cy="100.3" r="1.85"/>
<circle cx="276.7" cy="100.3" r="1.85"/>
<circle cx="283.3" cy="100.3" r="1.85"/>
<circle cx="301.7" cy="100.3" r="1.85"/>
<circle cx="266.5" cy="103.1" r="1.85"/>
<circle cx="269.4" cy="103.1" r="1.85"/>
<circle cx="271.6" cy="103.1" r="1.85"/>
<circle cx="272.1" cy="106.0" r="1.85"/>
<circle cx="269.5" cy="108.8" r="1.85"/>
<circle cx="290.3" cy="108.8" r="1.85"/>
<circle cx="268.5" cy="111.7" r="1.85"/>
<circle cx="283.6" cy="111.7" r="1.85"/>
<circle cx="267.0" cy="114.5" r="1.85"/>
<circle cx="270.6" cy="117.3" r="1.85"/>
</g>
<rect class="ax" x="68.95" y="44.0" width="251.55" height="214.90"/>
<line class="rl" x1="68.95" y1="258.9" x2="320.5" y2="44.0"/>
<path class="ax" d="M78.27 258.9v9.4M68.95 250.94h-9.6M111.54 258.9v9.4M68.95 222.51h-9.6M144.81 258.9v9.4M68.95 194.09h-9.6M178.09 258.9v9.4M68.95 165.66h-9.6M211.36 258.9v9.4M68.95 137.24h-9.6M244.64 258.9v9.4M68.95 108.81h-9.6M277.91 258.9v9.4M68.95 80.39h-9.6M311.18 258.9v9.4M68.95 51.96h-9.6"/>
<text class="l" x="78.3" y="291.3">230</text>
<text class="l" transform="translate(47.6,250.9) rotate(-90)">230</text>
<text class="l" x="144.8" y="291.3">250</text>
<text class="l" transform="translate(47.6,194.1) rotate(-90)">250</text>
<text class="l" x="211.4" y="291.3">270</text>
<text class="l" transform="translate(47.6,137.2) rotate(-90)">270</text>
<text class="l" x="277.9" y="291.3">290</text>
<text class="l" transform="translate(47.6,80.4) rotate(-90)">290</text>
<text class="l" transform="translate(10.9,151.4) rotate(-90)">Gestational age</text>
<text class="l" x="194.7" y="327.6">Estimated gestational age</text>
<text class="l" x="194.7" y="345.8">R<tspan class="s" dy="-8.3">2</tspan><tspan dy="8.3">=0.76</tspan></text>
</g>
</svg></body></html>
